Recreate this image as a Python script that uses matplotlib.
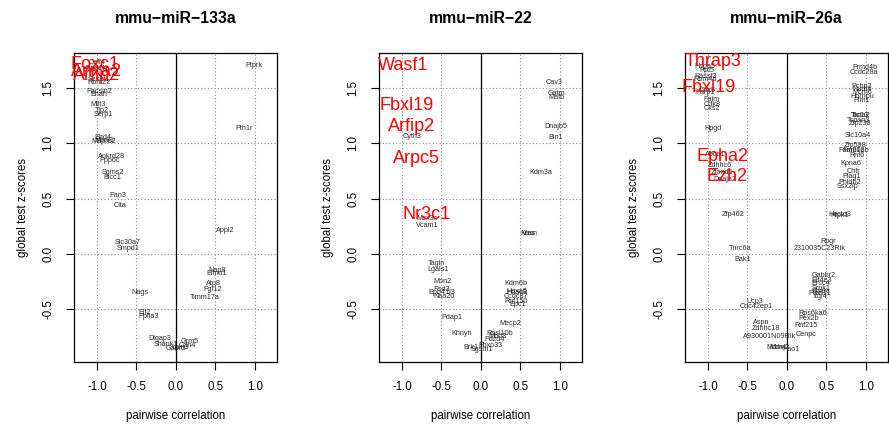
"""Global test z-scores vs pairwise correlation for three miRNAs (label plots)."""
import matplotlib
matplotlib.use("Agg")
import matplotlib.pyplot as plt

plt.rcParams["font.family"] = ["Liberation Sans", "DejaVu Sans"]
plt.rcParams["axes.unicode_minus"] = False

titles = ["mmu\u2212miR\u2212133a", "mmu\u2212miR\u221222", "mmu\u2212miR\u221226a"]

# --- mmu-miR-133a ---
genes_133a = ["Celf4", "Sipa1l1", "Sestd1", "Rbm22", "Pacsin2", "Enah", "Mllt3", "Tjp2",
              "Serp1", "Ehd4", "Mbnl1", "Mapre2", "Ankrd28", "Ppp6c", "Sgms2", "Bicc1",
              "Pan3", "Clta", "Slc30a7", "Smpd1", "Nags", "Elf2", "Ppfia3", "Dlgap3",
              "Shank1", "Gabrd", "Lpin3", "Cdh4", "Grm5", "Nap8", "Elmo1", "Atp8",
              "Fgf12", "Timm17a", "Appl2", "Pth1r", "Ptprk"]
x_133a = [-1.00, -1.00, -0.97, -0.97, -0.97, -0.97, -0.99, -0.94,
          -0.92, -0.92, -0.91, -0.92, -0.81, -0.84, -0.80, -0.80,
          -0.73, -0.71, -0.61, -0.61, -0.46, -0.39, -0.35, -0.20,
          -0.13, 0.00, 0.05, 0.14, 0.18, 0.52, 0.52, 0.47,
          0.46, 0.37, 0.62, 0.87, 0.99]
y_133a = [1.73, 1.68, 1.58, 1.55, 1.47, 1.44, 1.35, 1.30,
          1.26, 1.05, 1.03, 1.02, 0.88, 0.85, 0.74, 0.69,
          0.53, 0.44, 0.10, 0.05, -0.35, -0.53, -0.57, -0.77,
          -0.82, -0.86, -0.85, -0.83, -0.79, -0.15, -0.18, -0.27,
          -0.32, -0.40, 0.21, 1.14, 1.71]
red_133a = ["Foxc1", "Anxa2", "Arfip2"]
rx_133a = [-1.02, -1.00, -1.00]
ry_133a = [1.72, 1.65, 1.62]

# --- mmu-miR-22 ---
genes_22 = ["Cyth3", "Mex3c", "Vcam1", "Tagln", "Lgals1", "Mon2", "Psd3", "Epb41l3",
            "Naa20", "Pdap1", "Khnyn", "Brk1", "Sgsm1", "Kdm6b", "Hdac8", "Hoxa5",
            "Ccdc87", "Rnf150", "Epc1", "Mecp2", "Rasl10b", "Mbd3", "Pdzd4", "Fbxo33",
            "Cav3", "Gatm", "Mafb", "Dnajb5", "Bin1", "Kdm3a", "Kras", "Vasn"]
x_22 = [-0.87, -0.68, -0.68, -0.56, -0.54, -0.49, -0.50, -0.50,
        -0.46, -0.37, -0.24, -0.12, 0.01, 0.44, 0.46, 0.46,
        0.44, 0.44, 0.47, 0.37, 0.24, 0.21, 0.18, 0.12,
        0.92, 0.96, 0.96, 0.95, 0.95, 0.76, 0.59, 0.62]
y_22 = [1.06, 0.32, 0.26, -0.09, -0.14, -0.25, -0.32, -0.35,
        -0.39, -0.58, -0.72, -0.85, -0.87, -0.27, -0.35, -0.34,
        -0.39, -0.43, -0.46, -0.63, -0.72, -0.75, -0.78, -0.83,
        1.55, 1.45, 1.42, 1.15, 1.05, 0.74, 0.18, 0.18]
red_22 = ["Wasf1", "Fbxl19", "Arfip2", "Arpc5", "Nr3c1"]
rx_22 = [-0.99, -0.94, -0.88, -0.82, -0.69]
ry_22 = [1.71, 1.34, 1.15, 0.86, 0.36]

# --- mmu-miR-26a ---
genes_26a = ["Hspa5", "Rpl5", "Rassf3", "Rbm4b", "Cbx5", "Parp1", "Faim", "Cdk8",
             "Cks2", "Hpgd", "Abca1", "Zdhhc6", "Zfand5", "Dnaja2", "Zfp462", "Tnrc6a",
             "Bak1", "Ucp3", "Cdc42ep1", "Aspn", "Zdhhc18", "A930001N09Rik", "Mdm4",
             "Mdm2", "Hao1", "Frmd4b", "Ccdc28a", "Pcbp2", "Nudt4", "Mcm6", "Hnrnpu",
             "Pim1", "Tada2", "Ttc13", "Tspan3", "Zfp238", "Slc10a4", "Zfp598", "Fam20c",
             "Fam13b", "Rnf6", "Kpna6", "Chfr", "Plag1", "Phldb2", "Ssx2ip", "Hectd3",
             "Hipk1", "Rpgr", "2310035C23Rik", "Gabbr2", "Eif4e3", "Ercc4", "Srpk1",
             "Sparc", "Ptpn11", "Lgi4", "Rps6ka6", "Pex2b", "Rnf215", "Cenpc"]
x_26a = [-1.04, -1.01, -1.03, -1.03, -1.01, -1.03, -0.96, -0.95,
         -0.95, -0.94, -0.91, -0.85, -0.82, -0.78, -0.68, -0.59,
         -0.56, -0.41, -0.39, -0.32, -0.27, -0.22, -0.13,
         -0.10, 0.05, 0.99, 0.97, 0.95, 0.95, 0.95, 0.95,
         0.95, 0.94, 0.92, 0.90, 0.92, 0.90, 0.87, 0.82,
         0.87, 0.89, 0.81, 0.84, 0.82, 0.80, 0.77, 0.67,
         0.67, 0.52, 0.42, 0.46, 0.44, 0.43, 0.43,
         0.44, 0.42, 0.42, 0.33, 0.27, 0.24, 0.24]
y_26a = [1.70, 1.66, 1.61, 1.58, 1.48, 1.46, 1.40, 1.35,
         1.32, 1.14, 0.90, 0.80, 0.74, 0.67, 0.36, 0.05,
         -0.05, -0.43, -0.48, -0.62, -0.68, -0.75, -0.85,
         -0.85, -0.87, 1.69, 1.64, 1.52, 1.49, 1.46, 1.43,
         1.39, 1.25, 1.25, 1.21, 1.18, 1.07, 0.98, 0.94,
         0.94, 0.89, 0.82, 0.75, 0.70, 0.65, 0.61, 0.36,
         0.35, 0.11, 0.05, -0.20, -0.24, -0.27, -0.31,
         -0.34, -0.36, -0.39, -0.54, -0.59, -0.65, -0.73]
red_26a = ["Thrap3", "Fbxl19", "Epha2", "Ezh2"]
rx_26a = [-0.94, -0.99, -0.81, -0.76]
ry_26a = [1.74, 1.51, 0.88, 0.70]

ticks = [-1.0, -0.5, 0.0, 0.5, 1.0]
yticks = [-0.5, 0.0, 0.5, 1.0, 1.5]

panels = [
    (genes_133a, x_133a, y_133a, red_133a, rx_133a, ry_133a),
    (genes_22, x_22, y_22, red_22, rx_22, ry_22),
    (genes_26a, x_26a, y_26a, red_26a, rx_26a, ry_26a),
]
lefts = [74, 379, 685]
W, H = 889, 429

fig = plt.figure(figsize=(W / 100, H / 100), dpi=100)
for i, (g, xs, ys, rg, rxs, rys) in enumerate(panels):
    ax = fig.add_axes([lefts[i] / W, (H - 362) / H, 203 / W, 309 / H])
    ax.set_xlim(-1.29, 1.28)
    ax.set_ylim(-0.98, 1.82)
    ax.set_xticks(ticks)
    ax.set_xticklabels(["%.1f" % t for t in ticks])
    ax.set_yticks(yticks)
    ax.set_yticklabels(["%.1f" % t for t in yticks], rotation=90, va="center")
    ax.tick_params(direction="out", length=6, width=0.8, labelsize=8.3)
    ax.tick_params(axis="x", pad=8)
    ax.tick_params(axis="y", pad=8)
    for t in ticks:
        ax.axvline(t, color="#8a8a8a", lw=0.8, ls=(0, (1, 2)), zorder=0)
    for t in yticks:
        ax.axhline(t, color="#8a8a8a", lw=0.8, ls=(0, (1, 2)), zorder=0)
    ax.axvline(0, color="black", lw=0.9, zorder=1)
    for s in ax.spines.values():
        s.set_linewidth(0.9)
    for name, x, y in zip(g, xs, ys):
        ax.text(x, y, name, ha="center", va="center", fontsize=5.2, color="#2a2a2a")
    for name, x, y in zip(rg, rxs, rys):
        ax.text(x, y, name, ha="center", va="center", fontsize=13, color="red")
    ax.text(0.5, 1.113, titles[i], transform=ax.transAxes, ha="center", va="center",
            fontsize=11.3, fontweight="bold")
    ax.set_xlabel("pairwise correlation", fontsize=8.3)
    ax.xaxis.set_label_coords(0.5, -0.155)
    ax.set_ylabel("global test z-scores", fontsize=8.3)
    ax.yaxis.set_label_coords(-0.224, 0.5)

fig.savefig("out.png", dpi=100)
